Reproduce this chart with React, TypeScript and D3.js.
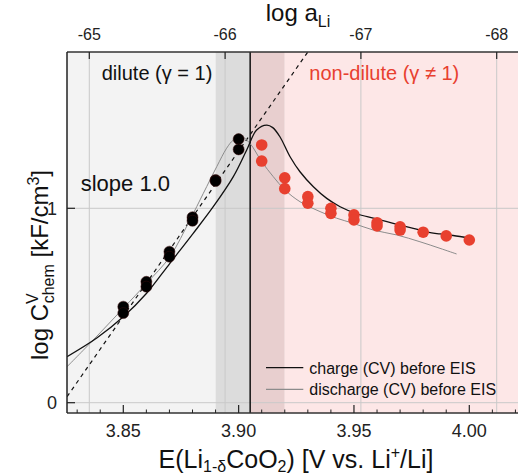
import React from "react";
import * as d3 from "d3";

// ---- data ----
const blackE = [3.85, 3.85, 3.86, 3.86, 3.87, 3.87, 3.88, 3.88, 3.89, 3.89, 3.90, 3.90];
const blackY = [0.494, 0.461, 0.622, 0.597, 0.777, 0.751, 0.954, 0.936, 1.146, 1.14, 1.356, 1.303];

const redE = [3.91, 3.91, 3.92, 3.92, 3.93, 3.93, 3.94, 3.94, 3.95, 3.95, 3.96, 3.96, 3.97, 3.97, 3.98, 3.99, 4.00];
const redY = [1.326, 1.243, 1.157, 1.101, 1.060, 1.026, 1.000, 0.974, 0.966, 0.940, 0.926, 0.909, 0.905, 0.888, 0.877, 0.858, 0.837];

const chargeE = [3.8256, 3.8385, 3.85, 3.8601, 3.8702, 3.8803, 3.889, 3.8977, 3.9035, 3.9078, 3.9122, 3.9148, 3.9179, 3.9223, 3.9266, 3.9324, 3.9382, 3.944, 3.9512, 3.9584, 3.967, 3.9757, 3.9815, 3.9873, 3.993, 4.0003];
const chargeY = [0.237, 0.333, 0.442, 0.563, 0.717, 0.871, 1.008, 1.163, 1.3, 1.403, 1.428, 1.415, 1.368, 1.265, 1.188, 1.111, 1.051, 1.008, 0.972, 0.949, 0.923, 0.897, 0.879, 0.868, 0.86, 0.846];

const dischargeE = [3.8256, 3.837, 3.85, 3.8601, 3.8702, 3.8789, 3.8847, 3.8905, 3.8948, 3.8977, 3.9013, 3.9049, 3.91, 3.915, 3.9201, 3.9266, 3.9353, 3.9425, 3.9497, 3.9584, 3.9685, 3.9786, 3.9873, 3.9945];
const dischargeY = [0.185, 0.323, 0.486, 0.614, 0.751, 0.94, 1.077, 1.214, 1.309, 1.351, 1.368, 1.334, 1.24, 1.163, 1.094, 1.034, 0.983, 0.949, 0.923, 0.888, 0.863, 0.828, 0.794, 0.765];

const bottomMajor = [3.85, 3.9, 3.95, 4.0];
const bottomMinor = [3.83, 3.84, 3.86, 3.87, 3.88, 3.89, 3.91, 3.92, 3.93, 3.94, 3.96, 3.97, 3.98, 3.99, 4.01, 4.02];
const topTicks = [-65, -66, -67, -68];
const yTicks = [0, 1];

const slopeOffset = -64.805; // log C = offset - log a (slope 1.0)
const laRange = [-64.6, -67.2];

const FONT = "'Liberation Sans', Arial, Helvetica, sans-serif";

export default function App() {
  const W = 518, H = 475;
  const x0 = 67, x1 = 530, y0 = 52, y1 = 413;

  const x = d3.scaleLinear().domain([3.85, 4.0]).range([123.3, 469.3]);
  const y = d3.scaleLinear().domain([0, 1]).range([402.7, 208.3]);
  const xa = d3.scaleLinear().domain([-65, -68]).range([89.3, 496.7]);

  const chargePath = d3.line<number>().x((_, i) => x(chargeE[i])).y((d) => y(d)).curve(d3.curveCatmullRom.alpha(0.5))(chargeY) || "";
  const dischargePath = d3.line<number>().x((_, i) => x(dischargeE[i])).y((d) => y(d)).curve(d3.curveCatmullRom.alpha(0.5))(dischargeY) || "";
  const slopePath = d3.line<number>().x((d) => xa(d)).y((d) => y(slopeOffset - d))(laRange) || "";

  const gridColor = "#c9c9c9";
  const red = "#e8402f";

  return (
    <svg width={W} height={H} style={{ position: "absolute", left: 0, top: 0, background: "#fff" }} fontFamily={FONT}>
      <defs>
        <clipPath id="plot">
          <rect x={x0} y={y0} width={x1 - x0} height={y1 - y0} />
        </clipPath>
      </defs>
      {/* backgrounds */}
      <rect x={x0} y={y0} width={x(3.89) - x0} height={y1 - y0} fill="#f3f3f3" />
      <rect x={x(3.89)} y={y0} width={x(3.905) - x(3.89)} height={y1 - y0} fill="#dcdcdc" />
      <rect x={x(3.905)} y={y0} width={x(3.92) - x(3.905)} height={y1 - y0} fill="#e8cfcf" />
      <rect x={x(3.92)} y={y0} width={x1 - x(3.92)} height={y1 - y0} fill="#fde7e7" />

      {/* grid */}
      {topTicks.map((t) => (
        <line key={"gv" + t} x1={xa(t)} x2={xa(t)} y1={y0} y2={y1} stroke={gridColor} strokeWidth={1} />
      ))}
      {yTicks.map((t) => (
        <line key={"gh" + t} x1={x0} x2={x1} y1={y(t)} y2={y(t)} stroke={gridColor} strokeWidth={1} />
      ))}

      {/* vertical boundary */}
      <line x1={x(3.905)} x2={x(3.905)} y1={y0} y2={y1} stroke="#111" strokeWidth={1.5} />

      <g clipPath="url(#plot)">
        <path d={slopePath} fill="none" stroke="#111" strokeWidth={1.2} strokeDasharray="4,4" />
        <path d={dischargePath} fill="none" stroke="#8c8c8c" strokeWidth={1} />
        <path d={chargePath} fill="none" stroke="#111" strokeWidth={1.3} />
        {blackY.map((v, i) => (
          <circle key={"b" + i} cx={x(blackE[i])} cy={y(v)} r={5.5} fill="#000" stroke="#3a0a0a" strokeWidth={0.5} />
        ))}
        {redY.map((v, i) => (
          <circle key={"r" + i} cx={x(redE[i])} cy={y(v)} r={5.8} fill={red} />
        ))}
      </g>

      {/* frame */}
      <line x1={x0} x2={x1} y1={y0} y2={y0} stroke="#333" strokeWidth={1.5} />
      <line x1={x0} x2={x1} y1={y1} y2={y1} stroke="#333" strokeWidth={1.5} />
      <line x1={x0} x2={x0} y1={y0} y2={y1} stroke="#222" strokeWidth={1.5} />

      {/* bottom ticks */}
      {bottomMajor.map((t) => (
        <g key={"bm" + t}>
          <line x1={x(t)} x2={x(t)} y1={y1} y2={y1 - 8} stroke="#222" strokeWidth={1.2} />
          <text x={x(t)} y={436.5} textAnchor="middle" fontSize={18} fill="#222">{t.toFixed(2)}</text>
        </g>
      ))}
      {bottomMinor.map((t) => (
        <line key={"bn" + t} x1={x(t)} x2={x(t)} y1={y1} y2={y1 - 3.5} stroke="#222" strokeWidth={1} />
      ))}

      {/* top ticks */}
      {topTicks.map((t) => (
        <g key={"tt" + t}>
          <line x1={xa(t)} x2={xa(t)} y1={y0} y2={y0 + 7} stroke="#222" strokeWidth={1.2} />
          <text x={xa(t)} y={39.5} textAnchor="middle" fontSize={16} fill="#222">{"-" + Math.abs(t)}</text>
        </g>
      ))}

      {/* left ticks */}
      {yTicks.map((t) => (
        <g key={"yt" + t}>
          <line x1={x0} x2={x0 + 8} y1={y(t)} y2={y(t)} stroke="#222" strokeWidth={1.2} />
          <text x={57} y={y(t) + 6.5} textAnchor="end" fontSize={18} fill="#222">{String(t)}</text>
        </g>
      ))}

      {/* axis titles */}
      <text x={296} y={468} textAnchor="middle" fontSize={25} fill="#111">
        E(Li<tspan dy={4} fontSize={16}>1-δ</tspan>
        <tspan dy={-4}>CoO</tspan>
        <tspan dy={4} fontSize={16}>2</tspan>
        <tspan dy={-4}>) [V vs. Li</tspan>
        <tspan dy={-10} fontSize={16}>+</tspan>
        <tspan dy={10}>/Li]</tspan>
      </text>
      <text x={298} y={21} textAnchor="middle" fontSize={24} fill="#111">
        log a<tspan dy={6} fontSize={16}>Li</tspan>
      </text>
      <text transform="translate(48,265) rotate(-90)" textAnchor="middle" fontSize={24} fill="#111">
        log C<tspan dy={-10} fontSize={16}>V</tspan>
        <tspan dx={-10} dy={16} fontSize={16}>chem</tspan>
        <tspan dy={-6}> [kF/cm</tspan>
        <tspan dy={-9} fontSize={16}>3</tspan>
        <tspan dy={9}>]</tspan>
      </text>

      {/* annotations */}
      <text x={101.7} y={80} fontSize={20} fill="#111">dilute (γ = 1)</text>
      <text x={309.3} y={80} fontSize={20} fill={red}>non-dilute (γ ≠ 1)</text>
      <text x={80.7} y={190.5} fontSize={22} fill="#111">slope 1.0</text>

      {/* legend */}
      <line x1={266} x2={303.3} y1={367.7} y2={367.7} stroke="#111" strokeWidth={1.2} />
      <text x={309.3} y={373.5} fontSize={16} fill="#111">charge (CV) before EIS</text>
      <line x1={266} x2={303.3} y1={389.3} y2={389.3} stroke="#8c8c8c" strokeWidth={1.2} />
      <text x={309.3} y={395} fontSize={16} fill="#111">discharge (CV) before EIS</text>
    </svg>
  );
}
